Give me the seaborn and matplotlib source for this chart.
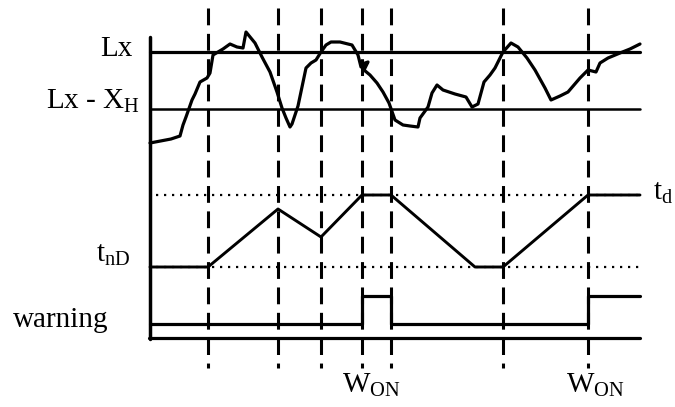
import matplotlib
matplotlib.use("Agg")
import matplotlib.pyplot as plt
import seaborn as sns

# time events (vertical dashed markers), in pixel-like time units
event_t = [208, 278, 321, 362, 391, 503, 588]

# levels
lx_level = 52
lx_xh_level = 109
td_level = 195
tnd_level = 267

# noisy input signal
noise_t = [150, 171, 180, 183, 186, 192, 195, 200, 207, 210, 213, 223, 230, 237,
           243, 246, 255, 262, 270, 277, 282, 286, 290, 292, 298, 306, 311, 316,
           321, 326, 331, 340, 352, 358, 361, 365, 368, 364, 370, 377, 383, 389,
           395, 403, 410, 418, 420, 428, 432, 437, 443, 455, 466, 472, 478, 484,
           490, 495, 503, 511, 518, 527, 535, 545, 551, 560, 568, 580, 588, 596,
           600, 608, 620, 630, 640]
noise_y = [143, 139, 136, 125, 117, 100, 94, 82, 78, 73, 55, 49, 44, 47,
           48, 32, 43, 57, 72, 92, 108, 118, 127, 124, 106, 68, 63, 60,
           52, 45, 42, 42, 45, 55, 67, 63, 62, 70, 75, 83, 92, 103,
           120, 125, 126, 127, 118, 107, 93, 85, 90, 94, 97, 107, 104, 82,
           75, 68, 52, 43, 47, 58, 70, 88, 100, 96, 92, 78, 70, 72,
           63, 58, 53, 49, 44]

# timer ramp
ramp_t = [150, 208, 278, 321, 362, 391, 475, 503, 588, 640]
ramp_y = [267, 267, 209, 237, 195, 195, 267, 267, 195, 195]

# warning output
warn_t = [150, 362, 362, 391, 391, 588, 588, 640]
warn_y = [324, 324, 296, 296, 324, 324, 296, 296]

sns.set_style("white")
plt.rcParams["font.family"] = ["Liberation Serif", "DejaVu Serif"]
plt.rcParams["mathtext.fontset"] = "custom"
plt.rcParams["mathtext.rm"] = "Liberation Serif"
plt.rcParams["mathtext.it"] = "Liberation Serif:italic"
plt.rcParams["text.color"] = "black"

fig = plt.figure(figsize=(6.75, 4.07), dpi=100)
ax = fig.add_axes([0, 0, 1, 1])
ax.set_xlim(0, 675)
ax.set_ylim(407, 0)
ax.axis("off")

# dashed event lines
for t in event_t:
    ax.plot([t, t], [8, 368], color="black", lw=2.2, dashes=(5.5, 2.8),
            solid_capstyle="butt", dash_capstyle="butt")

# dotted reference levels
for lvl in [td_level, tnd_level]:
    ax.plot([156, 640], [lvl, lvl], color="black", lw=1.6, dashes=(1, 2.6))

# frame (axes of the diagram)
ax.plot([150, 150], [37, 339], color="black", lw=2.5)
ax.plot([149, 640], [338, 338], color="black", lw=2.3)
ax.plot([150, 640], [lx_level, lx_level], color="black", lw=2.3)
ax.plot([150, 640], [lx_xh_level, lx_xh_level], color="black", lw=1.8)

sns.lineplot(x=noise_t, y=noise_y, ax=ax, color="black", lw=2.3,
             estimator=None, sort=False)
sns.lineplot(x=ramp_t, y=ramp_y, ax=ax, color="black", lw=2.1,
             estimator=None, sort=False)
sns.lineplot(x=warn_t, y=warn_y, ax=ax, color="black", lw=2.3,
             estimator=None, sort=False)

fs = 21
ax.text(133, 56, "Lx", fontsize=fs, ha="right", va="baseline", color="black")
ax.text(140, 109, "Lx - X${}_\\mathrm{H}$", fontsize=fs, ha="right",
        va="baseline", color="black")
ax.text(130, 262, "t${}_\\mathrm{nD}$", fontsize=fs, ha="right",
        va="baseline", color="black")
ax.text(13, 327, "warning", fontsize=fs, ha="left", va="baseline", color="black")
ax.text(653, 200, "t${}_\\mathrm{d}$", fontsize=fs, ha="left",
        va="baseline", color="black")
ax.text(342, 393, "W${}_\\mathrm{ON}$", fontsize=fs, ha="left",
        va="baseline", color="black")
ax.text(566, 393, "W${}_\\mathrm{ON}$", fontsize=fs, ha="left",
        va="baseline", color="black")

fig.savefig("out.png", dpi=100)
